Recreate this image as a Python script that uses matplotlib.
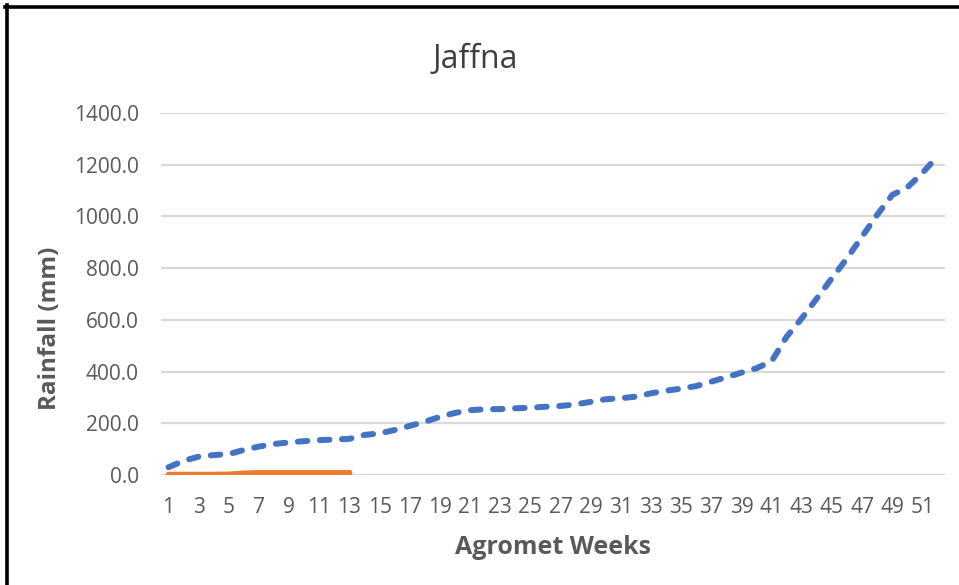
import numpy as np
import matplotlib.pyplot as plt
from matplotlib.lines import Line2D

# ================== data ==================
weeks = list(range(1, 53))
cumulative = [30, 55, 71, 77, 81, 97, 110, 120, 126, 131,
              135, 137, 140, 155, 161, 174, 190, 206, 225, 240,
              251, 254, 255, 258, 260, 264, 267, 273, 283, 293,
              297, 303, 316, 326, 334, 344, 361, 378, 396, 413,
              440, 535, 606, 683, 761, 838, 922, 1006, 1083, 1112,
              1168, 1232]
current_weeks = list(range(1, 14))
current = [1, 1, 1, 1, 2, 6, 8, 8, 8, 8, 8, 8, 8]
yticks = [0, 200, 400, 600, 800, 1000, 1200, 1400]
# ==========================================

W, H = 959, 585
FONT = ["Open Sans", "DejaVu Sans"]
TXT = "#595959"

fig = plt.figure(figsize=(W / 100, H / 100), dpi=100)
ax = fig.add_axes([161 / W, 1 - 475 / H, 784 / W, 362 / H])

ax.plot(weeks, cumulative, color="#4472C4", lw=4.3,
        dashes=(1.6, 2.1), dash_capstyle="round", zorder=3)
ax.plot(current_weeks, current, color="#ED7D31", lw=4.3,
        solid_capstyle="round", zorder=4)

ax.set_xlim(0.5, 52.5)
ax.set_ylim(0, 1400)
ax.set_yticks(yticks)
ax.set_yticklabels([f"{v:.1f}" for v in yticks], family=FONT, fontsize=15, color=TXT)
xt = [w for w in weeks if w % 2 == 1]
ax.set_xticks(xt)
ax.set_xticklabels([str(w) for w in xt], family=FONT, fontsize=15, color=TXT)
ax.tick_params(length=0)
ax.tick_params(axis="x", pad=16)
ax.tick_params(axis="y", pad=16)
ax.grid(axis="y", color="#D9D9D9", lw=1.6)
ax.set_axisbelow(True)
for s in ax.spines.values():
    s.set_visible(False)

fig.text(475 / W, 1 - 60 / H, "Jaffna", family=FONT, fontsize=23, color="#404040",
         ha="center", va="center")
fig.text(553 / W, 1 - 547 / H, "Agromet Weeks", family=FONT, fontsize=18,
         fontweight="bold", color=TXT, ha="center", va="center")
fig.text(50 / W, 1 - 328 / H, "Rainfall (mm)", family=FONT, fontsize=17.5,
         fontweight="bold", color=TXT, ha="center", va="center", rotation=90)

# screenshot frame (top and left)
fig.add_artist(Line2D([5 / W, 1], [1 - 6.5 / H, 1 - 6.5 / H], color="black", lw=2.6))
fig.add_artist(Line2D([6.5 / W, 6.5 / W], [0, 1 - 5 / H], color="black", lw=2.6))

fig.savefig("out.png", dpi=100)
